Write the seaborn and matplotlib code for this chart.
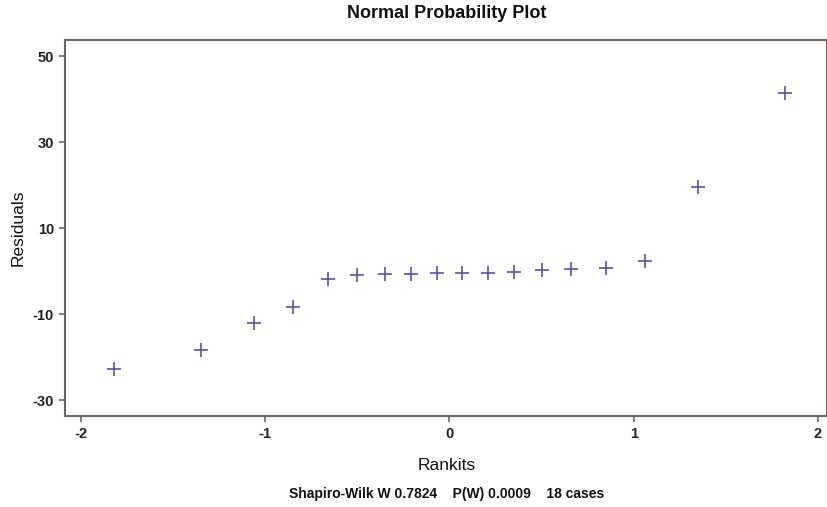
import matplotlib
matplotlib.use("Agg")
import matplotlib.pyplot as plt
import seaborn as sns
import pandas as pd

rankits = [-1.82, -1.35, -1.06, -0.85, -0.66, -0.50, -0.35, -0.21, -0.07,
           0.07, 0.21, 0.35, 0.50, 0.66, 0.85, 1.06, 1.35, 1.82]
residuals = [-22.8, -18.3, -12.0, -8.4, -1.8, -0.9, -0.7, -0.65, -0.5,
             -0.5, -0.5, -0.1, 0.3, 0.5, 0.8, 2.4, 19.6, 41.5]
x_ticks = [-2, -1, 0, 1, 2]
y_ticks = [-30, -10, 10, 30, 50]

title = "Normal Probability Plot"
xlabel = "Rankits"
ylabel = "Residuals"
footer = "Shapiro-Wilk W 0.7824    P(W) 0.0009    18 cases"

sns.set_theme(style="white")
plt.rcParams['font.family'] = ['Liberation Sans', 'DejaVu Sans']

df = pd.DataFrame({"Rankits": rankits, "Residuals": residuals})

fig = plt.figure(figsize=(8.28, 5.07), dpi=100)
ax = fig.add_axes([65/828, 1 - 416/507, (827 - 65)/828, (416 - 40)/507])

sns.scatterplot(data=df, x="Rankits", y="Residuals", ax=ax, marker="+",
                s=110, color="#5650ae", linewidth=1.2, legend=False)

ax.set_xlim(-2.086, 2.049)
ax.set_ylim(-33.7, 53.8)
ax.set_xticks(x_ticks)
ax.set_yticks(y_ticks)
ax.set_xticklabels([str(v) for v in x_ticks], fontsize=10.5, fontweight="bold", color="#222222")
ax.set_yticklabels([str(v) for v in y_ticks], fontsize=10.5, fontweight="bold", color="#222222")
ax.tick_params(axis="both", which="major", direction="out", length=4, width=1.2,
               color="#6e6660", bottom=True, left=True, top=False, right=False, pad=4)
for sp in ax.spines.values():
    sp.set_color("#6e6660")
    sp.set_linewidth(1.5)
    sp.set_visible(True)

ax.set_xlabel("")
ax.set_ylabel("")
fig.text(447/828, 1 - 14/507, title, ha="center", va="center", fontsize=13, fontweight="bold", color="#111111")
fig.text(447/828, 1 - 466/507, xlabel, ha="center", va="center", fontsize=12.5, color="#111111")
fig.text(18/828, 1 - 228/507, ylabel, ha="center", va="center", rotation=90, fontsize=12.5, color="#111111")
fig.text(447/828, 1 - 494/507, footer, ha="center", va="center", fontsize=10, fontweight="bold", color="#111111")

fig.savefig("out.png", dpi=100, facecolor="white")
